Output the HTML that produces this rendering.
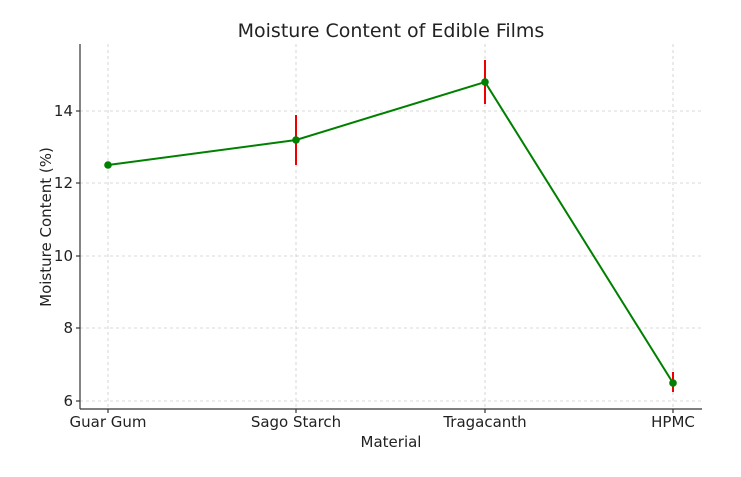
<!DOCTYPE html>
<html><head><meta charset="utf-8"><style>body{margin:0;background:#fff}</style></head><body>
<svg width="741" height="472" xmlns="http://www.w3.org/2000/svg" font-family="DejaVu Sans, Liberation Sans, sans-serif">
<rect width="741" height="472" fill="#fff"/>
<g stroke="#ccc" stroke-width="0.8" stroke-dasharray="3,3">
<line x1="108" y1="44" x2="108" y2="409"/><line x1="296" y1="44" x2="296" y2="409"/>
<line x1="485" y1="44" x2="485" y2="409"/><line x1="673" y1="44" x2="673" y2="409"/>
<line x1="80" y1="111" x2="702" y2="111"/><line x1="80" y1="183" x2="702" y2="183"/>
<line x1="80" y1="256" x2="702" y2="256"/><line x1="80" y1="328" x2="702" y2="328"/>
<line x1="80" y1="401" x2="702" y2="401"/>
</g>
<g stroke="#e00" stroke-width="2">
<line x1="296" y1="115" x2="296" y2="165"/><line x1="485" y1="60" x2="485" y2="104"/>
<line x1="673" y1="372" x2="673" y2="392"/>
</g>
<polyline points="108,165 296,140 485,82 673,383" fill="none" stroke="#008000" stroke-width="2"/>
<g fill="#008000"><circle cx="108" cy="165" r="3.8"/><circle cx="296" cy="140" r="3.8"/><circle cx="485" cy="82" r="3.8"/><circle cx="673" cy="383" r="3.8"/></g>
<g stroke="#333" stroke-width="1.2">
<line x1="80" y1="44" x2="80" y2="409"/><line x1="80" y1="409" x2="702" y2="409"/>
<line x1="76" y1="111" x2="80" y2="111"/><line x1="76" y1="183" x2="80" y2="183"/><line x1="76" y1="256" x2="80" y2="256"/><line x1="76" y1="328" x2="80" y2="328"/><line x1="76" y1="401" x2="80" y2="401"/>
<line x1="108" y1="409" x2="108" y2="413"/><line x1="296" y1="409" x2="296" y2="413"/><line x1="485" y1="409" x2="485" y2="413"/><line x1="673" y1="409" x2="673" y2="413"/>
</g>
<g fill="#222" font-size="15" text-anchor="end">
<text x="73" y="116">14</text><text x="73" y="188">12</text><text x="73" y="261">10</text><text x="73" y="333">8</text><text x="73" y="406">6</text>
</g>
<g fill="#222" font-size="15" text-anchor="middle">
<text x="108" y="427">Guar Gum</text><text x="296" y="427">Sago Starch</text><text x="485" y="427">Tragacanth</text><text x="673" y="427">HPMC</text>
<text x="391" y="447">Material</text>
<text x="391" y="37" font-size="19">Moisture Content of Edible Films</text>
<text transform="translate(51,227) rotate(-90)">Moisture Content (%)</text>
</g>
</svg>
</body></html>
